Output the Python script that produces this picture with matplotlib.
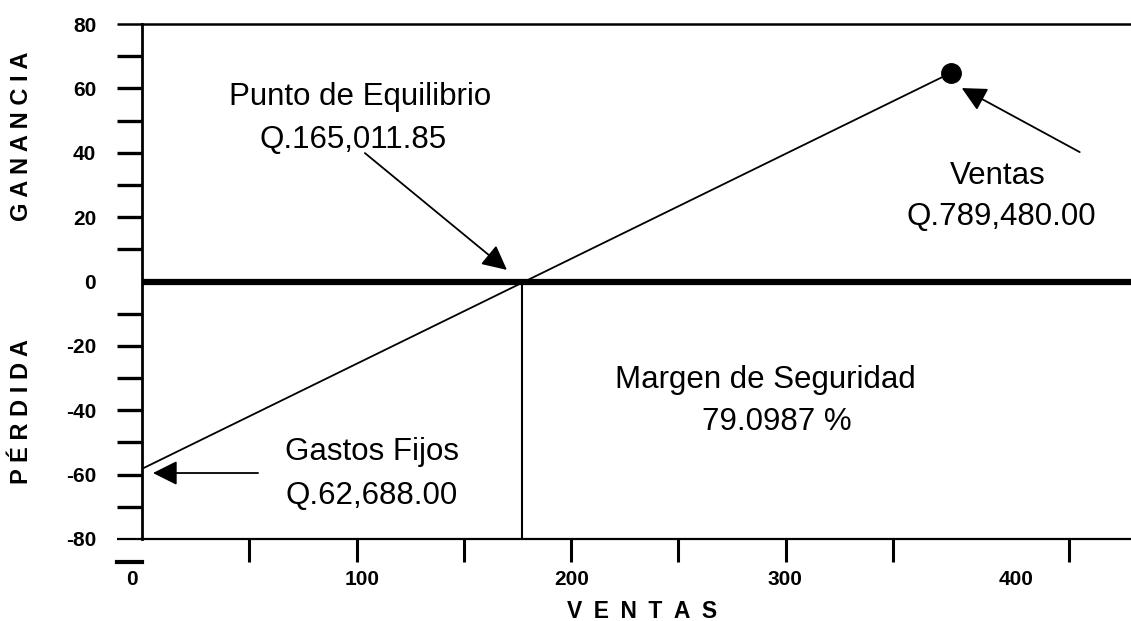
import matplotlib.pyplot as plt
from matplotlib.transforms import blended_transform_factory

plt.rcParams['font.family'] = ['Liberation Sans', 'DejaVu Sans']

# linea de resultado (miles de Q) y punto de equilibrio
ventas = [0, 377]
resultado = [-58.2, 64.8]
equilibrio_x = 177.1

y_ticks = list(range(-80, 81, 10))
y_labels = [str(v) if v % 20 == 0 else '' for v in y_ticks]
x_ticks = [50, 100, 150, 200, 250, 300, 350, 432]
x_label_pos = [-4.7, 102.5, 200.4, 299.6, 407.3]
x_labels = ['0', '100', '200', '300', '400']

# textos de las notas: (texto, x, y)
textos = [
    ('Punto de Equilibrio', 101.6, 57.3),
    ('Q.165,011.85', 98.3, 43.9),
    ('Ventas', 398.9, 32.8),
    ('Q.789,480.00', 400.7, 20.0),
    ('Gastos Fijos', 107.2, -52.9),
    ('Q.62,688.00', 107.0, -66.6),
    ('Margen de Seguridad', 290.8, -30.6),
    ('79.0987 %', 295.9, -43.6),
]
# flechas: (punta, cola)
flechas = [
    ((170.1, 3.6), (103.9, 39.9)),
    ((382.1, 60.1), (437.1, 40.2)),
    ((5.1, -59.5), (54.1, -59.5)),
]

fig = plt.figure(figsize=(11.31, 6.21), dpi=100)
ax = fig.add_axes([142 / 1131, 82 / 621, 989 / 1131, 515 / 621])

ax.plot(ventas, resultado, color='black', lw=1.3)
ax.plot(ventas[-1], resultado[-1], 'o', color='black', ms=14)
ax.axhline(0, color='black', lw=4.5)
ax.plot([equilibrio_x, equilibrio_x], [0, -80], color='black', lw=1.5)

ax.set_xlim(0, 461)
ax.set_ylim(-80, 80)

ax.spines['right'].set_visible(False)
ax.spines['top'].set_linewidth(1.8)
ax.spines['left'].set_linewidth(2.0)
ax.spines['bottom'].set_linewidth(1.6)

ax.set_yticks(y_ticks)
ax.set_yticklabels(y_labels, fontweight='bold', fontsize=15)
ax.tick_params(axis='y', length=18, width=2.4, pad=15)
yt = ax.yaxis.get_major_ticks()
yt[8].tick1line.set_visible(False)
yt[0].tick1line.set_markeredgewidth(1.6)
yt[-1].tick1line.set_markeredgewidth(1.8)

ax.set_xticks(x_ticks)
ax.set_xticklabels([])
ax.tick_params(axis='x', length=16.5, width=2.2)

trans = blended_transform_factory(ax.transData, ax.transAxes)
for x, lab in zip(x_label_pos, x_labels):
    ax.text(x, -0.0796, lab, ha='center', va='center', fontweight='bold',
            fontsize=15, transform=trans)

# pequena marca suelta bajo el eje
trans2 = blended_transform_factory(ax.transAxes, ax.transData)
ax.plot([-0.025, 0], [-87, -87], color='black', lw=3, transform=trans2, clip_on=False)

for txt, x, y in textos:
    ax.text(x, y, txt, ha='center', va='center', fontsize=22.5)

for tip, tail in flechas:
    ax.annotate('', xy=tip, xytext=tail,
                arrowprops=dict(arrowstyle='-|>,head_length=1.0,head_width=0.5',
                                mutation_scale=15, color='black', lw=1.3,
                                shrinkA=0, shrinkB=0))

fig.text(22 / 1131, 0.781, 'G A N A N C I A', rotation=90, ha='center', va='center',
         fontweight='bold', fontsize=17)
fig.text(22 / 1131, 0.338, 'P É R D I D A', rotation=90, ha='center', va='center',
         fontweight='bold', fontsize=17)
fig.text(0.5676, 0.0161, '\u2002'.join('VENTAS'), ha='center', va='center',
         fontweight='bold', fontsize=16.5)

fig.savefig('out.png', dpi=100)
